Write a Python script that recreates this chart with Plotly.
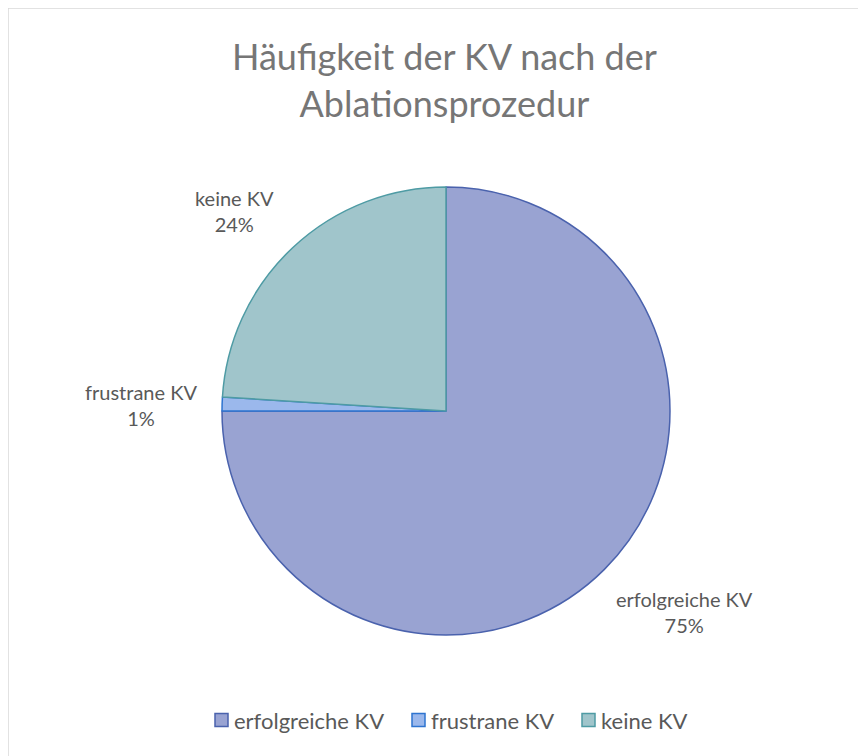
import plotly.graph_objects as go

categories = ["erfolgreiche KV", "frustrane KV", "keine KV"]
values = [75, 1, 24]
fill_colors = ["#99a3d2", "#9bb8ec", "#a0c5cb"]
line_colors = ["#4a62ad", "#2e74d0", "#4e9ba4"]

W, H = 866, 756
OFF = 8  # page body margin offset
cx, cy, r = 446, 411, 224

def px(x):
    return (x - OFF) / W

def py(y):
    return 1 - (y - OFF) / H

fig = go.Figure(go.Pie(
    labels=categories,
    values=values,
    sort=False,
    direction="clockwise",
    rotation=0,
    marker=dict(colors=fill_colors, line=dict(color=line_colors, width=1.5)),
    textinfo="none",
    hoverinfo="label+percent",
    showlegend=False,
    domain=dict(x=[px(cx - r), px(cx + r)], y=[py(cy + r), py(cy - r)]),
))

total = sum(values)
label_pos = [(684, 612), (141, 405), (234, 211)]
font_family = "Lato, 'Open Sans', sans-serif"
annotations = []
for cat, v, (lx, ly) in zip(categories, values, label_pos):
    annotations.append(dict(
        x=px(lx), y=py(ly), xref="paper", yref="paper",
        xanchor="center", yanchor="middle",
        text=f"{cat}<br>{round(100 * v / total)}%",
        showarrow=False, align="center",
        font=dict(family=font_family, size=20, color="#595959"),
    ))

annotations.append(dict(
    x=px(444), y=py(79), xref="paper", yref="paper",
    xanchor="center", yanchor="middle",
    text="Häufigkeit der KV nach der<br>Ablationsprozedur",
    showarrow=False, align="center",
    font=dict(family=font_family, size=36, color="#767676"),
))

shapes = [dict(type="rect", xref="paper", yref="paper",
               x0=px(8), x1=px(900), y0=py(800), y1=py(8),
               line=dict(color="#d9d9d9", width=1.5), layer="below")]

# manual legend
legend_x = [215, 412, 582]
ly = 720
sq = 13
for cat, fc, lc, lx in zip(categories, fill_colors, line_colors, legend_x):
    shapes.append(dict(type="rect", xref="paper", yref="paper",
                       x0=px(lx), x1=px(lx + sq), y0=py(ly + sq / 2), y1=py(ly - sq / 2),
                       fillcolor=fc, line=dict(color=lc, width=1.5)))
    annotations.append(dict(
        x=px(lx + sq + 4), y=py(ly), xref="paper", yref="paper",
        xanchor="left", yanchor="middle", text=cat, showarrow=False,
        font=dict(family=font_family, size=22, color="#595959"),
    ))

fig.update_layout(
    width=W, height=H,
    margin=dict(l=0, r=0, t=0, b=0),
    paper_bgcolor="white",
    plot_bgcolor="white",
    showlegend=False,
    annotations=annotations,
    shapes=shapes,
)

fig.write_html("out.html")
